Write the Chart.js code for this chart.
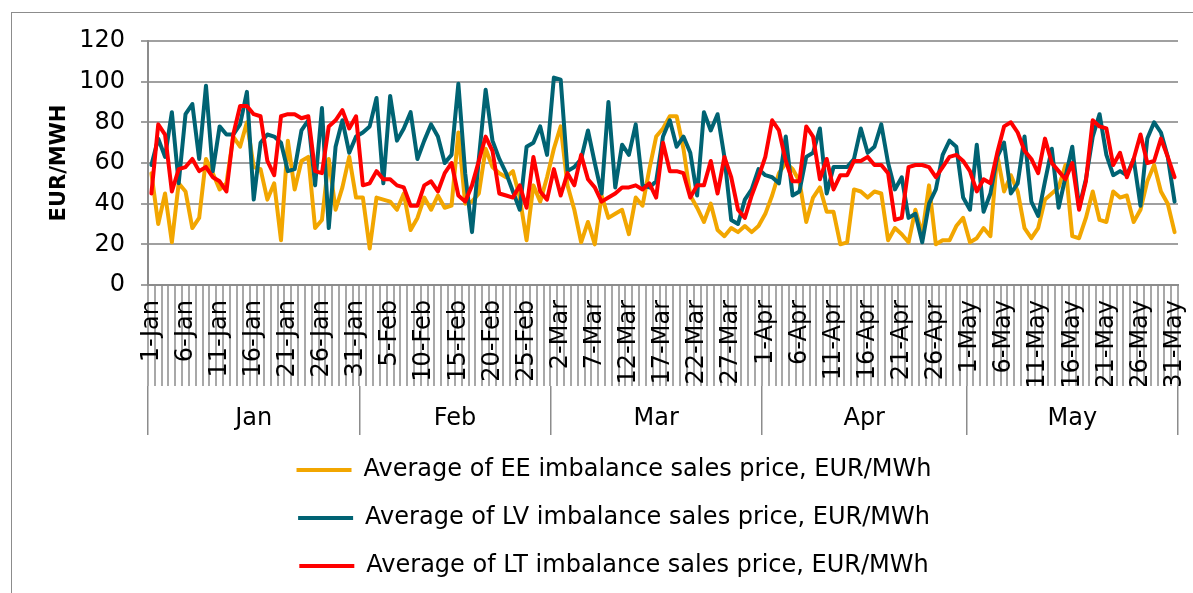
<!DOCTYPE html>
<html>
<head>
<meta charset="utf-8">
<script src="https://cdn.jsdelivr.net/npm/chart.js@4.4.0/dist/chart.umd.min.js"></script>
<style>
html, body { margin: 0; padding: 0; background: #fff; }
#wrap { position: relative; width: 1193px; height: 593px; overflow: hidden; }
#frame { position: absolute; left: 11px; top: 12px; width: 1300px; height: 700px; border-left: 1px solid #8c8c8c; border-top: 1px solid #8c8c8c; }
#c { position: absolute; left: 0; top: 0; }
</style>
</head>
<body>
<div id="wrap"><div id="frame"></div><canvas id="c" width="1193" height="593"></canvas></div>
<script>
// categories
var months = ['Jan', 'Feb', 'Mar', 'Apr', 'May'];
var monthDays = [31, 28, 31, 30, 31];
var days = [];
months.forEach(function (m, k) {
    for (var d = 1; d <= monthDays[k]; d++) days.push(d + '-' + m);
});

// month row: edges and middles, in category index units
var monthTicks = [-0.5, 15, 30.5, 44.5, 58.5, 74, 89.5, 104.5, 119.5, 135, 150.5];

var yTicks = [0, 20, 40, 60, 80, 100, 120];

var ee = [
    55, 30, 45, 21, 50, 46, 28, 33, 62, 55, 47, 50, 73, 68, 80, 58, 57, 42, 50, 22, 71, 47, 61, 63, 28, 32, 62, 37, 48, 63, 43,
    43, 18, 43, 42, 41, 37, 45, 27, 33, 43, 37, 44, 38, 39, 75, 40, 41, 45, 67, 58, 55, 53, 56, 43, 22, 49, 41, 53,
    67, 78, 49, 37, 21, 31, 20, 44, 33, 35, 37, 25, 43, 39, 57, 73, 77, 83, 83, 67, 44, 38, 31, 40, 27, 24, 28, 26, 29, 26, 29,
    35, 44, 55, 60, 57, 51, 31, 43, 48, 36, 36, 20, 21, 47, 46, 43, 46, 45, 22, 28, 25, 21, 37, 25, 49, 20, 22, 22, 29, 33,
    21, 23, 28, 24, 64, 46, 54, 46, 28, 23, 28, 42, 45, 48, 59, 24, 23, 33, 46, 32, 31, 46, 43, 44, 31, 37, 51, 59, 46, 40, 26
];
var lv = [
    59, 72, 63, 85, 50, 84, 89, 62, 98, 56, 78, 74, 74, 79, 95, 42, 70, 74, 73, 70, 56, 57, 76, 81, 49, 87, 28, 68, 81, 65, 73,
    75, 78, 92, 50, 93, 71, 77, 85, 62, 71, 79, 73, 60, 64, 99, 55, 26, 62, 96, 71, 62, 55, 46, 37, 68, 70, 78, 64,
    102, 101, 56, 58, 62, 76, 60, 45, 90, 48, 69, 64, 79, 49, 48, 51, 73, 81, 68, 73, 65, 44, 85, 76, 84, 63, 32, 30, 42, 47, 57,
    54, 53, 50, 73, 44, 46, 63, 65, 77, 45, 58, 58, 58, 62, 77, 65, 68, 79, 60, 47, 53, 33, 35, 21, 40, 47, 64, 71, 68, 43,
    37, 69, 36, 45, 63, 70, 45, 50, 73, 41, 34, 51, 67, 38, 53, 68, 38, 52, 73, 84, 64, 54, 56, 54, 62, 39, 72, 80, 75, 63, 41
];
var lt = [
    45, 79, 74, 46, 57, 58, 62, 56, 58, 53, 51, 46, 74, 88, 88, 84, 83, 61, 54, 83, 84, 84, 82, 83, 56, 55, 78, 81, 86, 77, 83,
    49, 50, 56, 52, 52, 49, 48, 39, 39, 49, 51, 46, 55, 60, 44, 41, 49, 61, 73, 66, 45, 44, 43, 49, 38, 63, 46, 42,
    57, 44, 55, 49, 64, 52, 48, 41, 43, 45, 48, 48, 49, 47, 50, 43, 70, 56, 56, 55, 43, 49, 49, 61, 45, 63, 53, 37, 33, 44, 53,
    63, 81, 76, 61, 51, 51, 78, 73, 52, 62, 47, 54, 54, 61, 61, 63, 59, 59, 55, 32, 33, 58, 59, 59, 58, 53, 58, 63, 64, 61,
    56, 46, 52, 50, 65, 78, 80, 75, 66, 62, 55, 72, 60, 56, 52, 60, 37, 51, 81, 78, 77, 59, 65, 53, 62, 74, 60, 61, 72, 63, 53
];

var font = 'DejaVu Sans';

function series(label, data, color, order) {
    return {
        label: label,
        data: data,
        borderColor: color,
        backgroundColor: color,
        borderWidth: 4,
        pointRadius: 0,
        pointHoverRadius: 0,
        tension: 0,
        borderJoinStyle: 'round',
        borderCapStyle: 'round',
        order: order
    };
}

new Chart(document.getElementById('c'), {
    type: 'line',
    data: {
        labels: days,
        datasets: [
            series('Average of EE imbalance sales price, EUR/MWh', ee, '#F2A600', 3),
            series('Average of LV imbalance sales price, EUR/MWh', lv, '#006373', 2),
            // red one sits on top
            series('Average of LT imbalance sales price, EUR/MWh', lt, '#FF0000', 1)
        ]
    },
    options: {
        responsive: false,
        animation: false,
        devicePixelRatio: 1,
        // left padding keeps the legend centred where the original had it
        layout: { padding: { left: 50, right: 15, top: 41, bottom: 5 } },
        scales: {
            x: {
                type: 'category',
                offset: true,
                grid: { offset: true, drawOnChartArea: false, tickLength: 101, color: '#a8a8a8', lineWidth: 2 },
                border: { display: true, color: '#8c8c8c', width: 2 },
                ticks: {
                    autoSkip: false,
                    minRotation: 90,
                    maxRotation: 90,
                    padding: -86,
                    color: '#000',
                    font: { family: font, size: 24 },
                    callback: function (value, index) {
                        return index % 5 === 0 ? this.getLabelForValue(value) : '';
                    }
                },
                afterFit: function (scale) { scale.height = 101; }
            },
            months: {
                type: 'linear',
                position: 'bottom',
                min: -0.5,
                max: 150.5,
                afterBuildTicks: function (scale) {
                    scale.ticks = monthTicks.map(function (v) { return { value: v }; });
                },
                grid: {
                    drawOnChartArea: false,
                    tickLength: 49,
                    lineWidth: 1.5,
                    color: function (ctx) { return ctx.index % 2 === 0 ? '#8c8c8c' : 'rgba(0,0,0,0)'; }
                },
                border: { display: false },
                ticks: {
                    autoSkip: false,
                    maxRotation: 0,
                    minRotation: 0,
                    padding: -31,
                    color: '#000',
                    font: { family: font, size: 24 },
                    callback: function (value, index) {
                        return index % 2 === 1 ? months[(index - 1) / 2] : '';
                    }
                },
                afterFit: function (scale) { scale.height = 48; }
            },
            y: {
                min: yTicks[0],
                max: yTicks[yTicks.length - 1],
                afterBuildTicks: function (scale) {
                    scale.ticks = yTicks.map(function (v) { return { value: v }; });
                },
                grid: { color: '#a0a0a0', lineWidth: 2, tickLength: 7 },
                border: { display: true, color: '#8c8c8c', width: 2 },
                ticks: { padding: 16, color: '#000', font: { family: font, size: 24 } },
                title: {
                    display: true,
                    text: 'EUR/MWH',
                    color: '#000',
                    font: { family: font, size: 21, weight: 'bold' },
                    padding: { top: -3, bottom: 0 }
                },
                afterFit: function (scale) { scale.width = 98; }
            }
        },
        plugins: {
            legend: {
                position: 'bottom',
                labels: {
                    usePointStyle: true,
                    pointStyle: 'line',
                    pointStyleWidth: 55,
                    padding: 24,
                    color: '#000',
                    font: { family: font, size: 24 },
                    sort: function (a, b) { return a.datasetIndex - b.datasetIndex; }
                }
            },
            tooltip: { enabled: false }
        }
    }
});
</script>
</body>
</html>
